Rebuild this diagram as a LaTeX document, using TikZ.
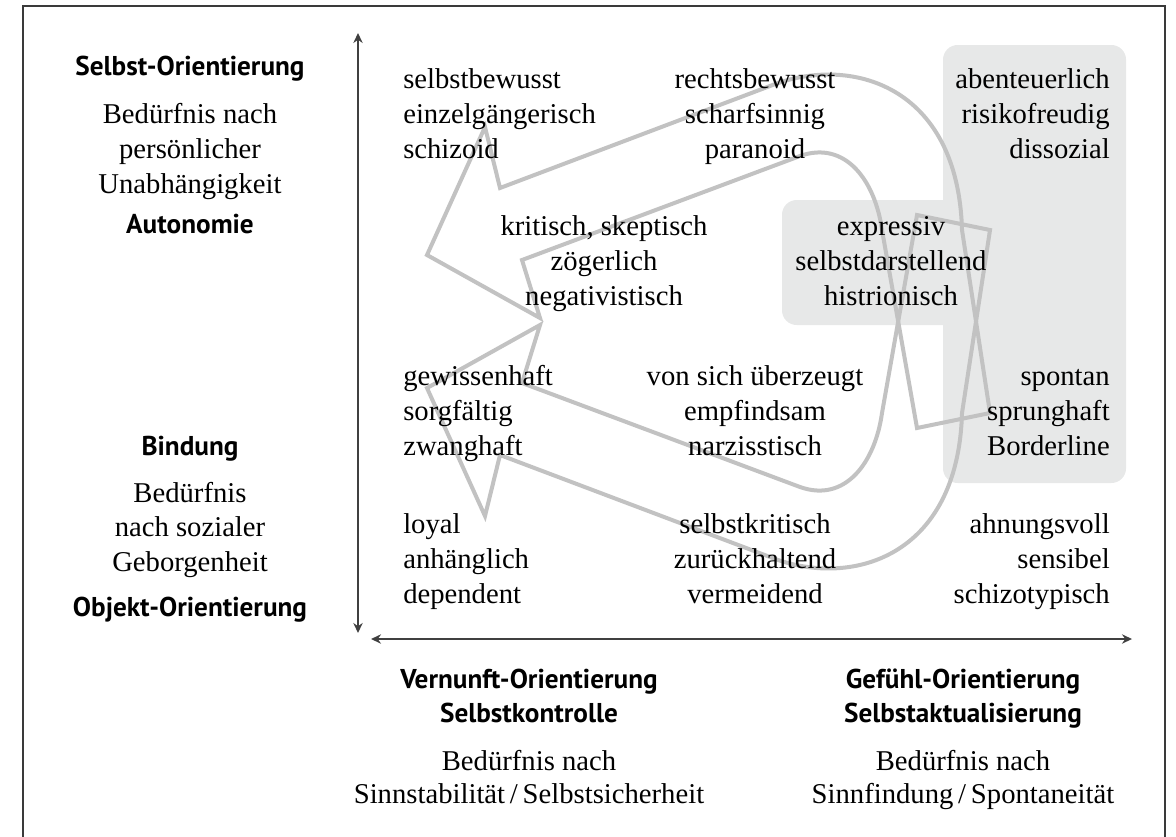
\documentclass[tikz,border=0pt]{standalone}
\usepackage{fontspec}
\setmainfont{Liberation Serif}
\newfontfamily\hdfont{PT Sans}
\usetikzlibrary{arrows.meta}
\definecolor{boxgray}{HTML}{E7E8E8}
\definecolor{arrgray}{HTML}{C2C2C2}
\definecolor{axisgray}{HTML}{404040}
\definecolor{framegray}{HTML}{3A3A3A}
\newcommand\tblock[5]{%
  \foreach \txt [count=\i] in {#5}{%
    \node[body, anchor=#2] (#1\i) at (#3, {#4+(\i-1)*35}) {\txt};
  }}
\begin{document}
\begin{tikzpicture}[x=0.75pt,y=-0.75pt,
  body/.style={font=\fontsize{21.5pt}{26pt}\selectfont, inner sep=0pt},
  head/.style={font=\hdfont\bfseries\fontsize{20.4pt}{24pt}\selectfont, inner sep=0pt},
  fatarrow/.style={draw=arrgray, line width=3pt},
  axisline/.style={draw=axisgray, line width=1.3pt},
  shade/.style={fill=boxgray, rounded corners=11pt}]
\useasboundingbox (0,0) rectangle (1176,836);
\clip (0,0) rectangle (1176,836);
% frame
\draw[framegray, line width=1.1pt] (23,850) -- (23,6) -- (1165,6) -- (1165,850);
% shaded regions
\fill[shade] (943,45) rectangle (1126,483);
\fill[shade] (782,200) rectangle (960,325);
% fat outline arrows
\newcommand\fatpath{(917,428) -- (882,230) .. controls (875,180) and (845,140) .. (800,156)
  -- (522,260) -- (540,318) -- (427,255) -- (485,127) -- (500,188) -- (770,86)
  .. controls (850,54) and (958,85) .. (962,230) -- (990,413) -- cycle}
\draw[fatarrow] \fatpath;
\begin{scope}[shift={(0,643)}, yscale=-1]
\draw[fatarrow] \fatpath;
\end{scope}
% axes
\coordinate (vt) at (358,33);
\coordinate (vb) at (358,633);
\coordinate (hl) at (371,639);
\coordinate (hr) at (1132,639);
\draw[axisline, {Stealth[length=7.5pt,width=7pt]}-{Stealth[length=7.5pt,width=7pt]}] (vb) -- (vt);
\draw[axisline, {Stealth[length=7.5pt,width=7pt]}-{Stealth[length=7.5pt,width=7pt]}] (hl) -- (hr);
% grid texts
\tblock{aa}{base west}{403}{88.5}{selbstbewusst,einzelgängerisch,schizoid}
\tblock{ba}{base west}{403}{385}{gewissenhaft,sorgfältig,zwanghaft}
\tblock{ca}{base west}{403}{533}{loyal,anhänglich,dependent}
\tblock{ab}{base}{755}{88.5}{rechtsbewusst,scharfsinnig,paranoid}
\tblock{bb}{base}{755}{385}{von sich überzeugt,empfindsam,narzisstisch}
\tblock{cb}{base}{755}{533}{selbstkritisch,zurückhaltend,vermeidend}
\tblock{mk}{base}{604}{235}{{kritisch, skeptisch},zögerlich,negativistisch}
\tblock{mx}{base}{891}{235}{expressiv,selbstdarstellend,histrionisch}
\tblock{ac}{base east}{1110}{88.5}{abenteuerlich,risikofreudig,dissozial}
\tblock{bc}{base east}{1110}{385}{spontan,sprunghaft,Borderline}
\tblock{cc}{base east}{1110}{533}{ahnungsvoll,sensibel,schizotypisch}
% left labels
\node[head, anchor=base] (selbst) at (190,75) {Selbst-Orientierung};
\node[body, anchor=base] (bn1) at (190,123) {Bedürfnis nach};
\node[body, anchor=base] (bn2) at (190,158) {persönlicher};
\node[body, anchor=base] (bn3) at (190,193) {Unabhängigkeit};
\node[head, anchor=base] (auto) at (190,233) {Autonomie};
\node[head, anchor=base] (bind) at (190,455) {Bindung};
\node[body, anchor=base] (bs1) at (190,502) {Bedürfnis};
\node[body, anchor=base] (bs2) at (190,536) {nach sozialer};
\node[body, anchor=base] (bs3) at (190,571) {Geborgenheit};
\node[head, anchor=base] (objekt) at (190,616) {Objekt-Orientierung};
% bottom labels
\node[head, anchor=base] (vern) at (529,688) {Vernunft-Orientierung};
\node[head, anchor=base] (skon) at (529,722) {Selbstkontrolle};
\node[body, anchor=base] (vb1) at (529,770) {Bedürfnis nach};
\node[body, anchor=base] (vb2) at (529,803) {Sinnstabilität\,/\,Selbstsicherheit};
\node[head, anchor=base] (gef) at (963,688) {Gefühl-Orientierung};
\node[head, anchor=base] (sakt) at (963,722) {Selbstaktualisierung};
\node[body, anchor=base] (gb1) at (963,770) {Bedürfnis nach};
\node[body, anchor=base] (gb2) at (963,803) {Sinnfindung\,/\,Spontaneität};
\end{tikzpicture}
\end{document}
